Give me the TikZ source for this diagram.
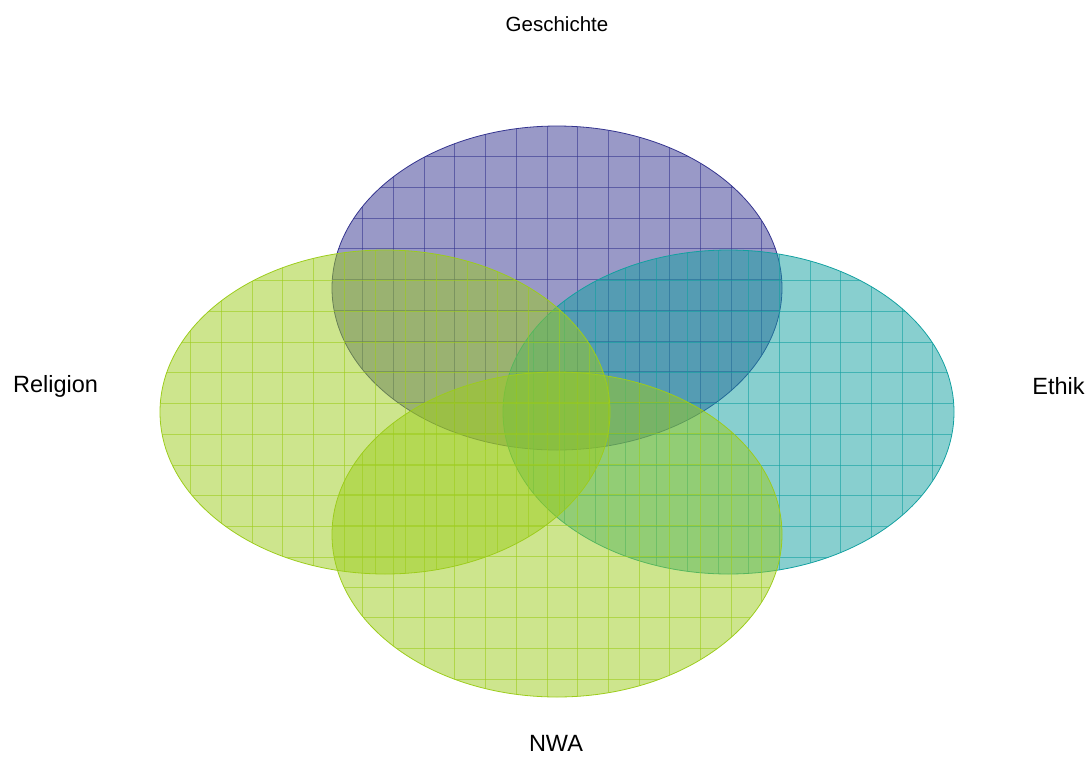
\documentclass[tikz,border=0pt]{standalone}
\usepackage{fontspec}
\setmainfont{Liberation Sans}
\usetikzlibrary{shapes.geometric}
\definecolor{vblue}{HTML}{34348F}
\definecolor{vteal}{HTML}{12A0A0}
\definecolor{vgreen}{HTML}{9CCC1C}
\tikzset{
  venn/.style={ellipse, minimum width=450pt, minimum height=324pt, inner sep=0pt,
    draw=#1, line width=0.8pt, fill=#1, fill opacity=0.5,
    path picture={
      \foreach \k in {1,...,14}
        \draw[#1, line width=0.7pt, draw opacity=0.6]
          ([xshift=\k*30.7pt]path picture bounding box.north west) --
          ([xshift=\k*30.7pt]path picture bounding box.south west);
      \foreach \k in {1,...,10}
        \draw[#1, line width=0.7pt, draw opacity=0.6]
          ([yshift=-\k*30.7pt]path picture bounding box.north west) --
          ([yshift=-\k*30.7pt]path picture bounding box.north east);
    }},
  biglabel/.style={font=\fontsize{23.5}{28}\selectfont, text=black, inner sep=0pt},
  smalllabel/.style={font=\fontsize{20.5}{24}\selectfont, text=black, inner sep=0pt}
}
\begin{document}
\begin{tikzpicture}[x=1pt,y=-1pt]
\useasboundingbox (0,0) rectangle (1090,756);
\node[venn=vblue] (gesch) at (557,288) {};
\node[venn=vteal, minimum width=451pt] (ethik) at (728.5,412) {};
\node[venn=vgreen] (relig) at (385,412) {};
\node[venn=vgreen, minimum height=325pt] (nwa) at (557,534.5) {};
\node[smalllabel] (lgesch) at (557,24) {Geschichte};
\node[biglabel] (lrelig) at (55.5,386) {Religion};
\node[biglabel] (lethik) at (1058.5,386) {Ethik};
\node[biglabel] (lnwa) at (556,743) {NWA};
\end{tikzpicture}
\end{document}
